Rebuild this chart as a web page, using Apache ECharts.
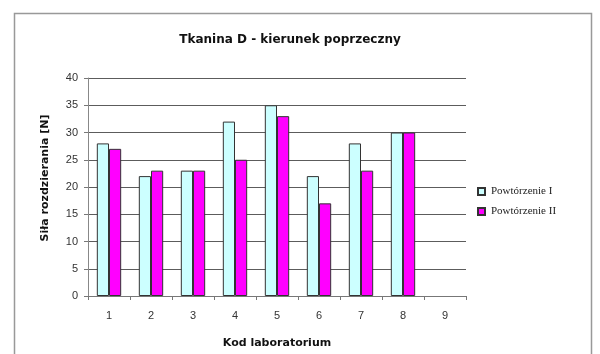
<!DOCTYPE html>
<html>
<head>
<meta charset="utf-8">
<script src="https://cdn.jsdelivr.net/npm/echarts@6/dist/echarts.min.js"></script>
<style>
  html, body { margin: 0; padding: 0; background: #fff; }
  #chart { width: 600px; height: 354px; }
</style>
</head>
<body>
<div id="chart"></div>
<script>
// Tearing strength per laboratory, two repetitions
const titleText = 'Tkanina D - kierunek poprzeczny';
const categories = ['1', '2', '3', '4', '5', '6', '7', '8', '9'];
const seriesNames = ['Powtórzenie I', 'Powtórzenie II'];
const repeat1 = [28, 22, 23, 32, 35, 22, 28, 30, null];
const repeat2 = [27, 23, 23, 25, 33, 17, 23, 30, null];
const yTicks = { min: 0, max: 40, interval: 5 };
const xName = 'Kod laboratorium';
const yName = 'Siła rozdzierania [N]';

const chart = echarts.init(document.getElementById('chart'), null, { renderer: 'canvas' });

const sans = '"Liberation Sans", Arial, sans-serif';
const wideSans = '"DejaVu Sans", Verdana, sans-serif';

const barStyle = (color) => ({
  color: color,
  borderColor: '#333',
  borderWidth: 1
});

chart.setOption({
  animation: false,
  backgroundColor: '#fff',
  graphic: [
    {
      type: 'rect',
      shape: { x: 14.5, y: 13.5, width: 577, height: 360 },
      style: { fill: 'none', stroke: '#999', lineWidth: 1.5 },
      silent: true
    },
    {
      type: 'text',
      x: 290,
      y: 40,
      style: {
        text: titleText,
        align: 'center',
        verticalAlign: 'middle',
        font: 'bold 12px ' + wideSans,
        fill: '#111'
      },
      silent: true
    },
    {
      type: 'text',
      x: 45,
      y: 178,
      rotation: Math.PI / 2,
      style: {
        text: yName,
        align: 'center',
        verticalAlign: 'middle',
        font: 'bold 11px ' + wideSans,
        fill: '#111'
      },
      silent: true
    }
  ],
  legend: {
    orient: 'vertical',
    left: 472,
    top: 181,
    itemWidth: 7,
    itemHeight: 7,
    itemGap: 9,
    icon: 'rect',
    textStyle: {
      fontFamily: '"Liberation Serif", "DejaVu Serif", serif',
      fontSize: 11,
      color: '#222',
      padding: [0, 0, 0, 1]
    },
    data: seriesNames
  },
  grid: {
    left: 88,
    top: 78,
    width: 378,
    height: 225,
    containLabel: false
  },
  xAxis: {
    type: 'category',
    data: categories,
    name: xName,
    nameLocation: 'middle',
    nameGap: 42,
    nameTextStyle: {
      fontFamily: wideSans,
      fontWeight: 'bold',
      fontSize: 11,
      color: '#111'
    },
    axisLine: { lineStyle: { color: '#777', width: 1 } },
    axisTick: { show: true, length: 4, lineStyle: { color: '#777' } },
    axisLabel: {
      margin: 14,
      fontFamily: sans,
      fontSize: 11,
      color: '#333'
    }
  },
  yAxis: {
    type: 'value',
    min: yTicks.min,
    max: yTicks.max,
    interval: yTicks.interval,
    axisLine: { show: true, lineStyle: { color: '#888', width: 1 } },
    axisTick: { show: true, length: 4, lineStyle: { color: '#777' } },
    axisLabel: {
      margin: 10,
      fontFamily: sans,
      fontSize: 11,
      color: '#333'
    },
    splitLine: { show: true, lineStyle: { color: '#5c5c5c', width: 1 } }
  },
  series: [
    {
      name: seriesNames[0],
      type: 'bar',
      data: repeat1,
      barGap: '0%',
      barCategoryGap: '42%',
      itemStyle: barStyle('#ccffff')
    },
    {
      name: seriesNames[1],
      type: 'bar',
      data: repeat2,
      barGap: '0%',
      barCategoryGap: '42%',
      itemStyle: barStyle('#ff00ff')
    }
  ]
});
</script>
</body>
</html>
